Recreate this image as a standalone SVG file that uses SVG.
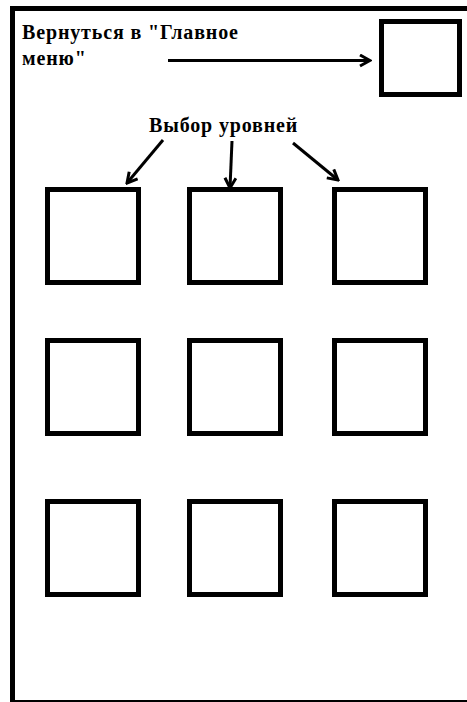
<svg xmlns="http://www.w3.org/2000/svg" width="467" height="702" viewBox="0 0 467 702">
<style>
.box{fill:none;stroke:#000;stroke-width:5}
.lbl{font-family:"Liberation Serif","Times New Roman",serif;font-weight:bold;font-size:20px;letter-spacing:0.85px;fill:#000}
.con{fill:none;stroke:#000;stroke-width:3}
</style>
<defs>
<marker id="ah2" markerWidth="14" markerHeight="14" refX="12" refY="7" orient="auto" markerUnits="userSpaceOnUse" viewBox="0 0 14 14">
<polyline points="2,1.5 12,7 2,12.5" fill="none" stroke="#000" stroke-width="3"/>
</marker>
</defs>
<rect width="467" height="702" fill="#fff"/>
<g id="frame">
<line x1="12.5" y1="6" x2="12.5" y2="702" stroke="#000" stroke-width="5"/>
<line x1="10" y1="8.5" x2="467" y2="8.5" stroke="#000" stroke-width="5"/>
<line x1="10" y1="701" x2="467" y2="701" stroke="#000" stroke-width="2"/>
</g>
<g id="back-label"><text class="lbl" x="22" y="39">Вернуться в "Главное</text><text class="lbl" x="22" y="65">меню"</text></g>
<g id="levels-label"><text class="lbl" x="149" y="132">Выбор уровней</text></g>
<g id="back-button"><rect class="box" x="381.5" y="21.5" width="78" height="73"/></g>
<g id="level-1"><rect class="box" x="47.5" y="189.5" width="91" height="93"/></g>
<g id="level-2"><rect class="box" x="189.5" y="189.5" width="91" height="93"/></g>
<g id="level-3"><rect class="box" x="334.5" y="189.5" width="91" height="93"/></g>
<g id="level-4"><rect class="box" x="47.5" y="340.5" width="91" height="93"/></g>
<g id="level-5"><rect class="box" x="189.5" y="340.5" width="91" height="93"/></g>
<g id="level-6"><rect class="box" x="334.5" y="340.5" width="91" height="93"/></g>
<g id="level-7"><rect class="box" x="47.5" y="501.5" width="91" height="93"/></g>
<g id="level-8"><rect class="box" x="189.5" y="501.5" width="91" height="93"/></g>
<g id="level-9"><rect class="box" x="334.5" y="501.5" width="91" height="93"/></g>
<g id="connectors">
<line class="con" x1="168" y1="60.5" x2="370" y2="60.5" marker-end="url(#ah2)"/>
<line class="con" x1="163" y1="140" x2="127" y2="183" marker-end="url(#ah2)"/>
<line class="con" x1="232" y1="141" x2="230" y2="188" marker-end="url(#ah2)"/>
<line class="con" x1="293" y1="143" x2="338" y2="180" marker-end="url(#ah2)"/>
</g>
</svg>
